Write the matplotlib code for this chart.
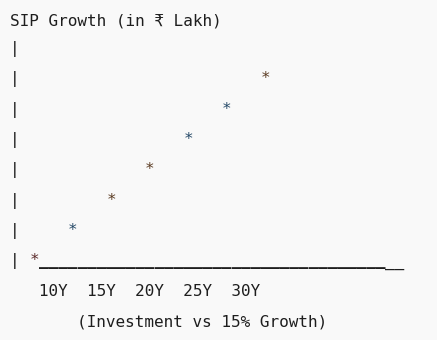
"""Gráfico em texto monoespaçado: crescimento de SIP."""

import matplotlib

matplotlib.use("Agg")
import matplotlib.pyplot as plt

# conteúdo do gráfico (linhas de texto)
title = "SIP Growth (in ₹ Lakh)"
chart_rows = [
    "|",
    "|                         *",
    "|                     *",
    "|                 *",
    "|             *",
    "|         *",
    "|     *",
    "| *",
]
axis_length = 38
axis_bold = 36
year_labels = ["10Y", "15Y", "20Y", "25Y", "30Y"]
caption = "(Investment vs 15% Growth)"

W, H = 437, 340
BG = "#f9f9f9"
INK = "#1e1e1e"
BROWN, BLUE = "#5a3b22", "#234766"
# cor de cada asterisco, de cima para baixo
STAR_COLORS = [BROWN, BLUE, BLUE, BROWN, BROWN, BLUE, "#5a2a2a"]
FONT = ["DejaVu Sans Mono", "DejaVu Sans"]
FONT_PX = 16.0
LEFT = 10.0
TITLE_BASE = 25.5
ROW0_BASE = 53.0
ROW_STEP = 30.35

fig = plt.figure(figsize=(W / 100, H / 100), dpi=100)
fig.patch.set_facecolor(BG)
size_pt = FONT_PX * 72 / 100

# largura de um caractere
probe = fig.text(0, 0, "M" * 40, fontsize=size_pt, family=FONT)
fig.canvas.draw()
cw = probe.get_window_extent().width / 40
probe.remove()


def put(col, baseline, text, **kw):
    kw.setdefault("color", INK)
    fig.text(
        (LEFT + col * cw) / W,
        1 - baseline / H,
        text,
        fontsize=size_pt,
        family=FONT,
        ha="left",
        va="baseline",
        **kw,
    )


put(0, TITLE_BASE, title)

star_count = 0
for i, row in enumerate(chart_rows):
    base = ROW0_BASE + i * ROW_STEP
    put(0, base, row.split("*")[0].rstrip())
    for col, ch in enumerate(row):
        if ch == "*":
            put(col, base, "*", color=STAR_COLORS[star_count % len(STAR_COLORS)])
            star_count += 1

# eixo horizontal
axis_row = len(chart_rows) - 1
axis_start = len(chart_rows[axis_row])
base = ROW0_BASE + axis_row * ROW_STEP
put(axis_start, base, "_" * axis_bold, fontweight="bold")
put(axis_start + axis_bold, base, "_" * (axis_length - axis_bold))

labels_line = "   " + "  ".join(year_labels)
put(0, ROW0_BASE + len(chart_rows) * ROW_STEP, labels_line)
put(7, ROW0_BASE + (len(chart_rows) + 1) * ROW_STEP, caption)

fig.savefig("out.png", dpi=100, facecolor=BG)
